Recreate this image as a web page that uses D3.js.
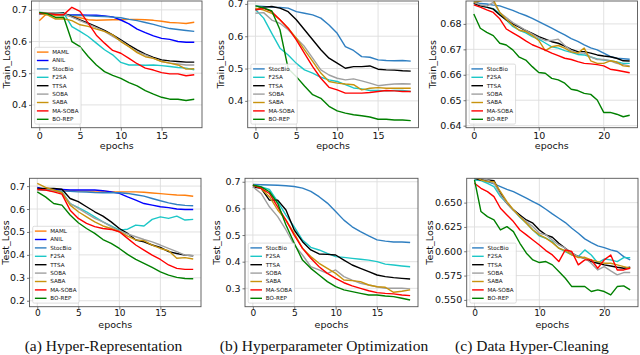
<!DOCTYPE html>
<html>
<head>
<meta charset="utf-8">
<script src="https://cdn.jsdelivr.net/npm/d3@7"></script>
<style>
  body { margin: 0; background: #fff; }
  svg { display: block; }
</style>
</head>
<body>
<svg id="fig" width="640" height="355" font-family="DejaVu Sans, sans-serif"></svg>
<script>
// ---- data ----
var epochs20 = d3.range(20);
var epochs25 = d3.range(25);

// (a) Hyper-Representation, train loss
var hrTrainMAML    = [0.666,0.690,0.682,0.684,0.680,0.675,0.669,0.667,0.668,0.669,0.669,0.670,0.670,0.669,0.667,0.664,0.660,0.659,0.657,0.661];
var hrTrainANIL    = [0.687,0.688,0.686,0.685,0.684,0.684,0.683,0.683,0.681,0.678,0.668,0.656,0.639,0.628,0.618,0.610,0.607,0.600,0.598,0.598];
var hrTrainStocBio = [0.690,0.688,0.686,0.685,0.683,0.682,0.681,0.680,0.679,0.677,0.675,0.670,0.666,0.660,0.654,0.647,0.641,0.638,0.635,0.632];
var hrTrainF2SA    = [0.692,0.690,0.690,0.690,0.647,0.632,0.616,0.595,0.574,0.558,0.534,0.526,0.526,0.525,0.526,0.524,0.521,0.518,0.516,0.511];
var hrTrainTTSA    = [0.690,0.690,0.689,0.690,0.679,0.668,0.658,0.647,0.635,0.621,0.605,0.589,0.574,0.560,0.550,0.542,0.539,0.537,0.535,0.535];
var hrTrainSOBA    = [0.692,0.691,0.690,0.688,0.677,0.666,0.655,0.644,0.632,0.616,0.602,0.584,0.568,0.558,0.547,0.537,0.532,0.529,0.526,0.526];
var hrTrainSABA    = [0.688,0.684,0.671,0.672,0.666,0.653,0.648,0.639,0.632,0.621,0.600,0.584,0.565,0.552,0.547,0.537,0.532,0.526,0.513,0.514];
var hrTrainMASOBA  = [0.690,0.689,0.685,0.685,0.708,0.695,0.658,0.620,0.595,0.572,0.563,0.547,0.530,0.516,0.510,0.502,0.498,0.498,0.492,0.495];
var hrTrainBOREP   = [0.692,0.688,0.676,0.677,0.600,0.584,0.553,0.526,0.505,0.493,0.484,0.470,0.460,0.445,0.434,0.424,0.418,0.418,0.414,0.418];

// (b) Hyperparameter Optimization, train loss
var hoTrainStocBio = [0.694,0.692,0.690,0.689,0.687,0.676,0.671,0.666,0.656,0.635,0.609,0.568,0.556,0.537,0.535,0.527,0.525,0.524,0.525,0.523];
var hoTrainF2SA    = [0.683,0.656,0.609,0.563,0.542,0.516,0.496,0.486,0.473,0.465,0.460,0.450,0.440,0.437,0.432,0.432,0.431,0.432,0.432,0.429];
var hoTrainTTSA    = [0.684,0.690,0.692,0.687,0.676,0.651,0.620,0.589,0.558,0.532,0.517,0.501,0.506,0.506,0.508,0.498,0.496,0.495,0.493,0.492];
var hoTrainSOBA    = [0.671,0.673,0.650,0.640,0.620,0.594,0.568,0.532,0.496,0.480,0.470,0.465,0.468,0.462,0.455,0.447,0.450,0.452,0.453,0.452];
var hoTrainSABA    = [0.687,0.681,0.671,0.651,0.625,0.594,0.558,0.522,0.486,0.460,0.455,0.452,0.450,0.434,0.439,0.441,0.439,0.439,0.439,0.439];
var hoTrainMASOBA  = [0.681,0.686,0.676,0.651,0.625,0.589,0.547,0.506,0.470,0.442,0.434,0.424,0.424,0.424,0.426,0.429,0.432,0.431,0.429,0.429];
var hoTrainBOREP   = [0.694,0.688,0.678,0.620,0.500,0.475,0.446,0.419,0.408,0.383,0.369,0.362,0.357,0.354,0.350,0.343,0.343,0.341,0.341,0.339];

// (c) Data Hyper-Cleaning, train loss
var dhcTrainStocBio = [0.6888,0.6880,0.6878,0.6874,0.6871,0.6862,0.6853,0.6842,0.6833,0.6822,0.6809,0.6796,0.6783,0.6770,0.6757,0.6742,0.6731,0.6718,0.6706,0.6698,0.6685,0.6672,0.6665,0.6663,0.6661];
var dhcTrainF2SA    = [0.6882,0.6872,0.6865,0.6860,0.6840,0.6815,0.6790,0.6775,0.6765,0.6750,0.6740,0.6725,0.6710,0.6705,0.6695,0.6688,0.6680,0.6678,0.6670,0.6662,0.6658,0.6655,0.6650,0.6645,0.6645];
var dhcTrainTTSA    = [0.6881,0.6871,0.6866,0.6858,0.6835,0.6816,0.6800,0.6787,0.6774,0.6763,0.6750,0.6740,0.6730,0.6724,0.6713,0.6700,0.6691,0.6691,0.6685,0.6678,0.6674,0.6671,0.6665,0.6655,0.6654];
var dhcTrainSOBA    = [0.6885,0.6875,0.6870,0.6885,0.6845,0.6825,0.6805,0.6790,0.6775,0.6760,0.6745,0.6735,0.6735,0.6740,0.6715,0.6695,0.6685,0.6685,0.6670,0.6660,0.6660,0.6655,0.6645,0.6640,0.6635];
var dhcTrainSABA    = [0.6885,0.6890,0.6898,0.6895,0.6845,0.6818,0.6795,0.6775,0.6770,0.6755,0.6735,0.6695,0.6710,0.6715,0.6705,0.6690,0.6685,0.6705,0.6655,0.6645,0.6645,0.6655,0.6650,0.6635,0.6632];
var dhcTrainMASOBA  = [0.6875,0.6866,0.6855,0.6845,0.6820,0.6780,0.6765,0.6750,0.6733,0.6718,0.6708,0.6697,0.6685,0.6675,0.6665,0.6660,0.6652,0.6645,0.6643,0.6640,0.6635,0.6622,0.6618,0.6613,0.6608];
var dhcTrainBOREP   = [0.6839,0.6783,0.6767,0.6754,0.6724,0.6717,0.6698,0.6669,0.6658,0.6632,0.6609,0.6606,0.6586,0.6580,0.6567,0.6543,0.6538,0.6527,0.6523,0.6501,0.6452,0.6452,0.6445,0.6435,0.6441];

// (a) Hyper-Representation, test loss
var hrTestMAML    = [0.690,0.686,0.684,0.684,0.680,0.678,0.678,0.678,0.678,0.676,0.675,0.675,0.675,0.673,0.670,0.667,0.664,0.661,0.660,0.656];
var hrTestANIL    = [0.694,0.685,0.685,0.685,0.683,0.683,0.683,0.683,0.680,0.675,0.668,0.653,0.639,0.624,0.617,0.610,0.606,0.600,0.598,0.598];
var hrTestStocBio = [0.685,0.683,0.680,0.678,0.677,0.675,0.674,0.672,0.671,0.671,0.671,0.668,0.662,0.656,0.646,0.636,0.627,0.620,0.616,0.614];
var hrTestF2SA    = [0.685,0.683,0.680,0.675,0.624,0.606,0.588,0.566,0.544,0.526,0.508,0.512,0.530,0.526,0.555,0.566,0.559,0.569,0.552,0.555];
var hrTestTTSA    = [0.690,0.690,0.690,0.686,0.646,0.632,0.610,0.588,0.569,0.544,0.515,0.494,0.465,0.457,0.443,0.433,0.414,0.406,0.399,0.396];
var hrTestSOBA    = [0.685,0.683,0.680,0.671,0.624,0.603,0.581,0.559,0.544,0.523,0.505,0.491,0.479,0.467,0.457,0.443,0.428,0.414,0.399,0.396];
var hrTestSABA    = [0.712,0.694,0.683,0.672,0.617,0.588,0.566,0.544,0.526,0.515,0.501,0.482,0.465,0.462,0.443,0.428,0.418,0.385,0.388,0.382];
var hrTestMASOBA  = [0.685,0.683,0.675,0.665,0.595,0.559,0.537,0.523,0.515,0.511,0.501,0.472,0.443,0.421,0.399,0.380,0.356,0.341,0.337,0.337];
var hrTestBOREP   = [0.675,0.653,0.624,0.617,0.574,0.540,0.515,0.494,0.467,0.450,0.428,0.402,0.380,0.363,0.345,0.326,0.312,0.302,0.297,0.296];

// (b) Hyperparameter Optimization, test loss
var hoTestStocBio = [0.690,0.689,0.688,0.687,0.685,0.682,0.676,0.664,0.644,0.620,0.588,0.556,0.531,0.513,0.497,0.482,0.477,0.474,0.474,0.472];
var hoTestF2SA    = [0.6875,0.681,0.671,0.625,0.575,0.531,0.481,0.454,0.444,0.431,0.419,0.416,0.4125,0.409,0.406,0.400,0.391,0.3875,0.384,0.381];
var hoTestTTSA    = [0.681,0.675,0.631,0.631,0.594,0.519,0.475,0.444,0.429,0.4275,0.425,0.406,0.3875,0.375,0.3625,0.350,0.344,0.340,0.3375,0.335];
var hoTestSOBA    = [0.681,0.656,0.606,0.569,0.519,0.4625,0.425,0.381,0.369,0.356,0.369,0.344,0.331,0.319,0.3125,0.306,0.300,0.300,0.300,0.298];
var hoTestSABA    = [0.6875,0.675,0.644,0.594,0.556,0.506,0.450,0.419,0.394,0.375,0.356,0.331,0.329,0.325,0.3125,0.306,0.304,0.285,0.289,0.294];
var hoTestMASOBA  = [0.6875,0.675,0.656,0.606,0.556,0.500,0.450,0.4125,0.381,0.356,0.3375,0.321,0.309,0.300,0.291,0.284,0.281,0.279,0.275,0.2725];
var hoTestBOREP   = [0.6875,0.681,0.6625,0.619,0.5375,0.469,0.406,0.375,0.350,0.325,0.306,0.294,0.2875,0.281,0.275,0.275,0.271,0.269,0.2625,0.256];

// (c) Data Hyper-Cleaning, test loss
var dhcTestStocBio = [0.6750,0.6740,0.6716,0.6692,0.6664,0.6637,0.6613,0.6579,0.6545,0.6510,0.6476,0.6432,0.6384,0.6339,0.6295,0.6236,0.6185,0.6127,0.6089,0.6055,0.6038,0.6014,0.5997,0.5945,0.5911];
var dhcTestF2SA    = [0.6733,0.6726,0.6699,0.6664,0.6562,0.6493,0.6425,0.6349,0.6288,0.6219,0.6158,0.6134,0.6099,0.6031,0.5997,0.5962,0.5945,0.6014,0.5962,0.5880,0.5920,0.5911,0.5894,0.5935,0.5935];
var dhcTestTTSA    = [0.6750,0.6733,0.6733,0.6726,0.6596,0.6493,0.6425,0.6373,0.6322,0.6288,0.6219,0.6168,0.6144,0.6082,0.6031,0.5980,0.5945,0.5928,0.5894,0.5877,0.5860,0.5849,0.5836,0.5825,0.5836];
var dhcTestSOBA    = [0.6750,0.6750,0.6733,0.6699,0.6579,0.6493,0.6425,0.6356,0.6305,0.6253,0.6185,0.6168,0.6116,0.6065,0.6031,0.5980,0.5945,0.5928,0.5877,0.5808,0.5842,0.5798,0.5757,0.5781,0.5781];
var dhcTestSABA    = [0.6767,0.6733,0.6716,0.6716,0.6613,0.6510,0.6425,0.6356,0.6288,0.6219,0.6168,0.6134,0.6089,0.6031,0.6007,0.5962,0.5935,0.5938,0.5911,0.5894,0.5877,0.5877,0.5860,0.5842,0.5825];
var dhcTestMASOBA  = [0.6699,0.6647,0.6613,0.6562,0.6442,0.6373,0.6305,0.6219,0.6168,0.6116,0.6065,0.6007,0.5962,0.5894,0.6014,0.5997,0.5860,0.5911,0.5911,0.5825,0.5911,0.5962,0.5808,0.5808,0.5825];
var dhcTestBOREP   = [0.6733,0.6408,0.6356,0.6322,0.6219,0.6253,0.6202,0.6082,0.5980,0.5911,0.5884,0.5894,0.5860,0.5791,0.5723,0.5637,0.5637,0.5637,0.5586,0.5603,0.5586,0.5551,0.5637,0.5644,0.5603];

var xTicks20 = [0, 5, 10, 15];
var xTicks25 = [0, 10, 20];
var captions = ["(a) Hyper-Representation", "(b) Hyperparameter Optimization", "(c) Data Hyper-Cleaning"];

var colors = {
  "MAML": "#ff7f0e", "ANIL": "#0000ff", "StocBio": "#2f7fc1", "F2SA": "#1cc7c7",
  "TTSA": "#000000", "SOBA": "#a0a0a0", "SABA": "#c8930e", "MA-SOBA": "#ff0000", "BO-REP": "#008000"
};

var panels = [
  { box: [31.5, 202, 1, 127.7], n: 20, yDomain: [0.328, 0.728], yTicks: [0.4, 0.5, 0.6, 0.7], fmt: ".1f",
    ylabel: "Train_Loss", labelX: 10, tickOff: 4.5, epochsOff: 21.6,
    series: [["MAML", hrTrainMAML], ["ANIL", hrTrainANIL], ["StocBio", hrTrainStocBio], ["F2SA", hrTrainF2SA],
             ["TTSA", hrTrainTTSA], ["SOBA", hrTrainSOBA], ["SABA", hrTrainSABA], ["MA-SOBA", hrTrainMASOBA], ["BO-REP", hrTrainBOREP]] },
  { box: [247.7, 418.5, 1, 127.7], n: 20, yDomain: [0.317, 0.709], yTicks: [0.4, 0.5, 0.6, 0.7], fmt: ".1f",
    ylabel: "Train_Loss", labelX: 224, tickOff: 4.5, epochsOff: 21.6,
    series: [["StocBio", hoTrainStocBio], ["F2SA", hoTrainF2SA], ["TTSA", hoTrainTTSA], ["SOBA", hoTrainSOBA],
             ["SABA", hoTrainSABA], ["MA-SOBA", hoTrainMASOBA], ["BO-REP", hoTrainBOREP]] },
  { box: [466, 637.5, 1, 127.7], n: 25, yDomain: [0.6392, 0.689], yTicks: [0.64, 0.65, 0.66, 0.67, 0.68], fmt: ".2f",
    ylabel: "Train_Loss", labelX: 436, tickOff: 4.5, epochsOff: 21.6,
    series: [["StocBio", dhcTrainStocBio], ["F2SA", dhcTrainF2SA], ["TTSA", dhcTrainTTSA], ["SOBA", dhcTrainSOBA],
             ["SABA", dhcTrainSABA], ["MA-SOBA", dhcTrainMASOBA], ["BO-REP", dhcTrainBOREP]] },
  { box: [29.5, 201, 178.3, 306.7], n: 20, yDomain: [0.174, 0.734], yTicks: [0.2, 0.3, 0.4, 0.5, 0.6, 0.7], fmt: ".1f",
    ylabel: "Test_Loss", labelX: 9, tickOff: 3.4, epochsOff: 21,
    series: [["MAML", hrTestMAML], ["ANIL", hrTestANIL], ["StocBio", hrTestStocBio], ["F2SA", hrTestF2SA],
             ["TTSA", hrTestTTSA], ["SOBA", hrTestSOBA], ["SABA", hrTestSABA], ["MA-SOBA", hrTestMASOBA], ["BO-REP", hrTestBOREP]] },
  { box: [245, 418, 178.3, 306.7], n: 20, yDomain: [0.231, 0.713], yTicks: [0.3, 0.4, 0.5, 0.6, 0.7], fmt: ".1f",
    ylabel: "Test_Loss", labelX: 220, tickOff: 3.4, epochsOff: 21,
    series: [["StocBio", hoTestStocBio], ["F2SA", hoTestF2SA], ["TTSA", hoTestTTSA], ["SOBA", hoTestSOBA],
             ["SABA", hoTestSABA], ["MA-SOBA", hoTestMASOBA], ["BO-REP", hoTestBOREP]] },
  { box: [466.7, 638, 178.3, 306.7], n: 25, yDomain: [0.543, 0.675], yTicks: [0.55, 0.575, 0.6, 0.625, 0.65], fmt: ".3f",
    ylabel: "Test_Loss", labelX: 433, tickOff: 3.4, epochsOff: 21,
    series: [["StocBio", dhcTestStocBio], ["F2SA", dhcTestF2SA], ["TTSA", dhcTestTTSA], ["SOBA", dhcTestSOBA],
             ["SABA", dhcTestSABA], ["MA-SOBA", dhcTestMASOBA], ["BO-REP", dhcTestBOREP]] }
];

var svg = d3.select("#fig");

panels.forEach(function(p, i) {
  var x0 = p.box[0], x1 = p.box[1], y0 = p.box[2], y1 = p.box[3];
  var last = p.n - 1, pad = last * 0.05;
  var xTicks = p.n == 25 ? xTicks25 : xTicks20;
  var epochs = p.n == 25 ? epochs25 : epochs20;
  var bottomRow = i >= 3;
  var tickFont = bottomRow ? 9 : 9.5;

  var x = d3.scaleLinear().domain([-pad, last + pad]).range([x0, x1]);
  var y = d3.scaleLinear().domain(p.yDomain).range([y1, y0]);
  var g = svg.append("g");

  // grid
  g.append("g").selectAll("line").data(xTicks).join("line")
    .attr("x1", d => x(d)).attr("x2", d => x(d)).attr("y1", y0).attr("y2", y1)
    .attr("stroke", "#dedede").attr("stroke-width", 0.9);
  g.append("g").selectAll("line").data(p.yTicks).join("line")
    .attr("x1", x0).attr("x2", x1).attr("y1", d => y(d)).attr("y2", d => y(d))
    .attr("stroke", "#dedede").attr("stroke-width", 0.9);

  // lines, clipped to the axes box
  var clipId = "clip" + i;
  svg.append("clipPath").attr("id", clipId).append("rect")
    .attr("x", x0).attr("y", y0).attr("width", x1 - x0).attr("height", y1 - y0);
  var line = d3.line().x((d, k) => x(epochs[k])).y(d => y(d));
  g.append("g").attr("clip-path", "url(#" + clipId + ")")
    .selectAll("path").data(p.series).join("path")
    .attr("d", d => line(d[1]))
    .attr("fill", "none").attr("stroke", d => colors[d[0]])
    .attr("stroke-width", 1.4).attr("stroke-linejoin", "round");

  // frame
  g.append("rect").attr("x", x0).attr("y", y0).attr("width", x1 - x0).attr("height", y1 - y0)
    .attr("fill", "none").attr("stroke", "#555").attr("stroke-width", 0.9);

  // axes
  var ax = g.append("g").attr("transform", "translate(0," + y1 + ")")
    .call(d3.axisBottom(x).tickValues(xTicks).tickSize(3).tickPadding(p.tickOff - 3));
  var ay = g.append("g").attr("transform", "translate(" + x0 + ",0)")
    .call(d3.axisLeft(y).tickValues(p.yTicks).tickFormat(d3.format(p.fmt)).tickSize(2.5).tickPadding(2));
  [ax, ay].forEach(function(a) {
    a.select(".domain").remove();
    a.selectAll("line").attr("stroke", "#555").attr("stroke-width", 0.8);
    a.selectAll("text").attr("font-size", tickFont).attr("fill", "#111")
      .attr("font-family", "DejaVu Sans, sans-serif");
  });
  ay.selectAll("text").attr("font-size", 9.5);

  // axis labels
  g.append("text").attr("x", (x0 + x1) / 2).attr("y", y1 + p.epochsOff)
    .attr("text-anchor", "middle").attr("font-size", 9.5).attr("fill", "#111").text("epochs");
  g.append("text")
    .attr("transform", "translate(" + p.labelX + "," + ((y0 + y1) / 2) + ") rotate(-90)")
    .attr("text-anchor", "middle").attr("font-size", 9.5).attr("fill", "#111").text(p.ylabel);

  // legend, lower left
  var step = 8.4, vpad = 4.8, lx = x0 + 3.2;
  var lh = (p.series.length - 1) * step + 2 * vpad;
  var ly = y1 - 3.6 - lh;
  var leg = g.append("g");
  var box = leg.append("rect").attr("x", lx).attr("y", ly).attr("height", lh)
    .attr("rx", 1.5).attr("fill", "#fff").attr("fill-opacity", 0.85)
    .attr("stroke", "#d0d0d0").attr("stroke-width", 0.7);
  var items = leg.selectAll("g.item").data(p.series).join("g").attr("class", "item")
    .attr("transform", (d, k) => "translate(" + lx + "," + (ly + vpad + k * step) + ")");
  items.append("line").attr("x1", 2.2).attr("x2", 13.8).attr("y1", 0).attr("y2", 0)
    .attr("stroke", d => colors[d[0]]).attr("stroke-width", 1.4);
  var labels = items.append("text").attr("x", 17.6).attr("y", 0).attr("dy", "0.35em")
    .attr("font-size", 5.6).attr("fill", "#111").text(d => d[0]);
  var maxW = d3.max(labels.nodes(), n => n.getComputedTextLength());
  box.attr("width", 17.6 + maxW + 2.6);
});

// captions
var capX = [103.5, 324, 532];
svg.append("g").selectAll("text").data(captions).join("text")
  .attr("x", (d, k) => capX[k]).attr("y", 351)
  .attr("text-anchor", "middle")
  .style("font-family", "'Liberation Serif', 'Times New Roman', serif")
  .attr("font-size", 15.5).attr("fill", "#111")
  .text(d => d);
</script>
</body>
</html>
